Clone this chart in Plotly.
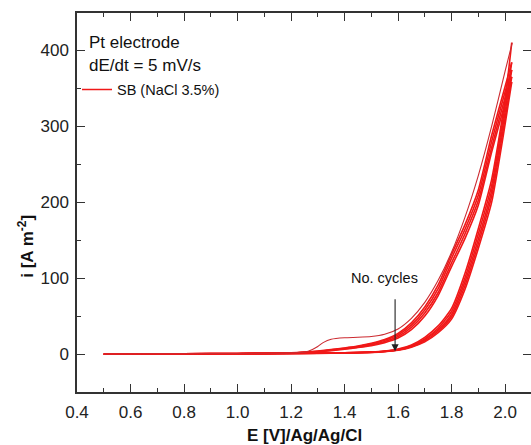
import plotly.graph_objects as go

# ---- data ----
# forward scans (anodic sweep)
E_fwd_hump = [0.5, 0.7, 0.9, 1.1, 1.2, 1.25, 1.28, 1.3, 1.32, 1.35, 1.4, 1.45, 1.5, 1.55, 1.6, 1.65,
              1.7, 1.75, 1.8, 1.85, 1.9, 1.95, 2.0, 2.027]
i_fwd_1 = [0.0, 0.3, 0.6, 1.0, 1.5, 2.5, 6.0, 10.0, 15.0, 19.5, 21.5, 22.0, 23.0, 26.0, 33.0, 47.0,
           68.0, 97.0, 134.0, 180.0, 235.0, 300.0, 372.0, 410.0]

E_fwd = [0.5, 0.7, 0.9, 1.1, 1.2, 1.25, 1.3, 1.35, 1.4, 1.45, 1.5, 1.55, 1.6, 1.65,
         1.7, 1.75, 1.8, 1.85, 1.9, 1.95, 2.0, 2.025]
i_fwd_2 = [0.0, 0.3, 0.6, 1.0, 1.5, 2.5, 4.0, 6.0, 8.0, 10.5, 14.0, 19.0, 27.0, 41.0,
           62.0, 91.0, 131.0, 170.0, 216.0, 288.0, 352.0, 384.0]
i_fwd_3 = [0.0, 0.3, 0.6, 1.0, 1.4, 2.3, 3.5, 5.5, 7.5, 10.0, 13.0, 18.0, 25.0, 38.0,
           58.0, 86.0, 126.0, 164.0, 209.0, 280.0, 345.0, 374.0]
i_fwd_4 = [0.0, 0.3, 0.6, 0.9, 1.3, 2.1, 3.0, 5.0, 7.0, 9.0, 12.0, 16.5, 23.0, 35.0,
           54.0, 81.0, 120.0, 158.0, 202.0, 272.0, 337.0, 365.0]
i_fwd_5 = [0.0, 0.3, 0.6, 0.9, 1.3, 2.0, 3.0, 4.5, 6.5, 8.5, 11.0, 15.0, 21.0, 32.0,
           50.0, 77.0, 115.0, 152.0, 196.0, 266.0, 330.0, 358.0]
i_fwd_all = [i_fwd_2, i_fwd_3, i_fwd_4, i_fwd_5]

# reverse scans (cathodic sweep)
E_rev = [2.025, 2.0, 1.95, 1.9, 1.85, 1.8, 1.75, 1.7, 1.65, 1.6, 1.55, 1.5, 1.4, 1.3, 1.2,
         1.0, 0.8, 0.6, 0.5]
i_rev_1 = [410.0, 335.0, 230.0, 165.0, 106.0, 60.0, 37.0, 22.0, 12.0, 6.5, 4.0, 2.8, 1.7, 1.2, 0.8,
           0.4, 0.2, 0.0, -0.3]
i_rev_2 = [384.0, 326.0, 222.0, 158.0, 100.0, 56.0, 34.0, 20.0, 11.0, 6.0, 3.7, 2.6, 1.6, 1.1, 0.8,
           0.4, 0.2, 0.0, -0.3]
i_rev_3 = [374.0, 318.0, 215.0, 151.0, 95.0, 52.0, 32.0, 19.0, 10.0, 5.5, 3.5, 2.4, 1.5, 1.0, 0.7,
           0.4, 0.2, 0.0, -0.3]
i_rev_4 = [365.0, 310.0, 208.0, 145.0, 90.0, 49.0, 30.0, 17.5, 9.5, 5.2, 3.3, 2.2, 1.4, 1.0, 0.7,
           0.4, 0.2, 0.0, -0.3]
i_rev_5 = [358.0, 302.0, 200.0, 139.0, 85.0, 46.0, 28.0, 16.0, 9.0, 5.0, 3.1, 2.1, 1.3, 0.9, 0.6,
           0.3, 0.1, 0.0, -0.3]
i_rev_all = [i_rev_1, i_rev_2, i_rev_3, i_rev_4, i_rev_5]

x_ticks = [0.4, 0.6, 0.8, 1.0, 1.2, 1.4, 1.6, 1.8, 2.0]
y_ticks = [0, 100, 200, 300, 400]

RED = "#f01818"
DARK = "#cc2a30"
AX = "#333333"
FONT = "Liberation Sans, Arial, sans-serif"

fig = go.Figure()

for iv in i_rev_all:
    fig.add_trace(go.Scatter(x=E_rev, y=iv, mode="lines",
                             line=dict(color=RED, width=1.6, shape="spline", smoothing=0.6),
                             showlegend=False, hoverinfo="skip"))
for iv in i_fwd_all:
    fig.add_trace(go.Scatter(x=E_fwd, y=iv, mode="lines",
                             line=dict(color=RED, width=1.6, shape="spline", smoothing=0.6),
                             showlegend=False, hoverinfo="skip"))
fig.add_trace(go.Scatter(x=E_fwd_hump, y=i_fwd_1, mode="lines",
                         line=dict(color=DARK, width=1.1, shape="spline", smoothing=0.6),
                         showlegend=False, hoverinfo="skip"))
fig.add_trace(go.Scatter(x=[None], y=[None], mode="lines", name="SB (NaCl 3.5%)",
                         line=dict(color=RED, width=1.6), showlegend=True))

axis_common = dict(showline=True, linecolor=AX, linewidth=1.5, mirror="ticks",
                   ticks="inside", ticklen=8, tickwidth=1.2, tickcolor=AX,
                   showgrid=False, zeroline=False, automargin=False,
                   tickfont=dict(family=FONT, size=17, color="#222222"),
                   minor=dict(ticks="inside", ticklen=4, tickwidth=1.2, tickcolor=AX))

fig.update_xaxes(range=[0.4, 2.097], tickvals=x_ticks,
                 ticktext=[f"{v:.1f}" for v in x_ticks],
                 minor_dtick=0.1, minor_tick0=0.4, ticklabelstandoff=4, **axis_common)
fig.update_yaxes(range=[-50, 449], tickvals=y_ticks,
                 minor_dtick=50, minor_tick0=0, ticklabelstandoff=3, **axis_common)

ann = [
    dict(text="Pt electrode", x=0.022, y=0.923, xref="paper", yref="paper",
         xanchor="left", yanchor="middle", showarrow=False,
         font=dict(family=FONT, size=17, color="#111111")),
    dict(text="dE/dt = 5 mV/s", x=0.022, y=0.862, xref="paper", yref="paper",
         xanchor="left", yanchor="middle", showarrow=False,
         font=dict(family=FONT, size=17, color="#111111")),
    dict(text="No. cycles", x=1.548, y=100, xref="x", yref="y",
         xanchor="center", yanchor="middle", showarrow=False,
         font=dict(family=FONT, size=14.5, color="#111111")),
    dict(text="", x=1.589, y=3.5, xref="x", yref="y", ax=1.589, ay=74,
         axref="x", ayref="y", showarrow=True, arrowhead=2, arrowsize=1.3,
         arrowwidth=1.1, arrowcolor="#222222"),
    dict(text="<b>E [V]/Ag/Ag/Cl</b>", x=(304 - 77) / 454, y=-(435 - 392) / 379,
         xref="paper", yref="paper", xanchor="center", yanchor="middle",
         showarrow=False, font=dict(family=FONT, size=17, color="#111111")),
    dict(text="<b>i [A m<sup>-2</sup>]</b>", x=-0.113, y=0.385, xref="paper", yref="paper",
         textangle=-90, xanchor="center", yanchor="middle", showarrow=False,
         font=dict(family=FONT, size=17, color="#111111")),
]

fig.update_layout(
    width=531, height=445,
    margin=dict(l=77, r=0, t=13, b=53, pad=0),
    paper_bgcolor="white", plot_bgcolor="white",
    font=dict(family=FONT, color="#111111"),
    annotations=ann,
    legend=dict(x=0.0, y=0.798, xanchor="left", yanchor="middle",
                bgcolor="rgba(0,0,0,0)", borderwidth=0,
                font=dict(family=FONT, size=14.5, color="#111111"),
                itemwidth=30),
)

fig.write_html("out.html")
